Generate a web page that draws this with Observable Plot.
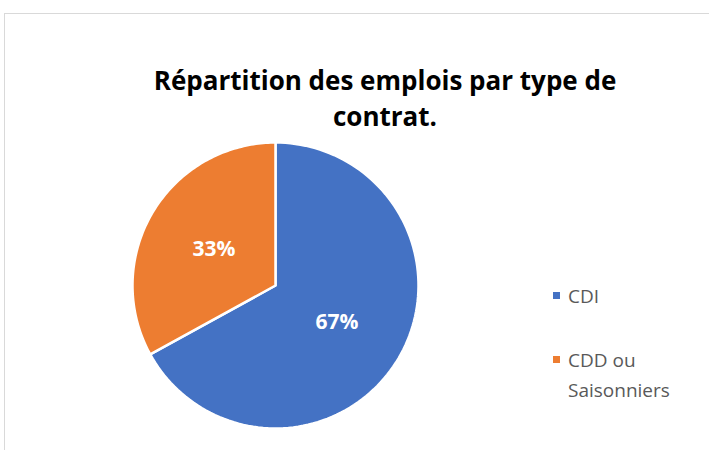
<!DOCTYPE html>
<html><head><meta charset="utf-8">
<script src="https://cdn.jsdelivr.net/npm/d3@7"></script>
<script src="https://cdn.jsdelivr.net/npm/@observablehq/plot@0.6"></script>
<style>
html,body{margin:0;padding:0;background:#fff;}
#wrap{position:relative;width:709px;height:450px;overflow:hidden;font-family:"Open Sans",sans-serif;}
#frame{position:absolute;left:4px;top:13px;width:760px;height:500px;border:1.5px solid #d9d9d9;box-sizing:border-box;}
#title{position:absolute;left:100px;width:570px;top:62px;text-align:center;font-weight:700;font-size:26px;line-height:36px;color:#000;}
#legend{position:absolute;left:553px;top:281px;color:#595959;font-size:19px;}
.item{position:relative;padding-left:15px;line-height:30px;}
.sw{position:absolute;left:0;top:11px;width:7px;height:7px;}
#chart{position:absolute;left:0;top:0;}
</style></head>
<body><div id="wrap"><div id="frame"></div><div id="chart"></div>
<div id="title">Répartition des emplois par type de<br>contrat.</div>
<div id="legend"></div></div>
<script>
const categories = ["CDI", "CDD ou Saisonniers"];
const values = [67, 33];
const labels = ["67%", "33%"];
const colors = ["#4472C4", "#ED7D31"];

const data = categories.map((c, i) => ({cat: c, value: values[i], label: labels[i]}));
const arcs = d3.pie().sort(null).value(d => d.value)(data);
const rows = [];
arcs.forEach(a => {
  rows.push({cat: a.data.cat, x: 0, y: 0});
  const n = 120;
  for (let k = 0; k <= n; k++) {
    const t = a.startAngle + (a.endAngle - a.startAngle) * k / n;
    rows.push({cat: a.data.cat, x: Math.sin(t), y: Math.cos(t)});
  }
  rows.push({cat: a.data.cat, x: 0, y: 0});
});
const labelRows = arcs.map(a => {
  const m = (a.startAngle + a.endAngle) / 2;
  return {label: a.data.label, x: 0.5 * Math.sin(m), y: 0.5 * Math.cos(m)};
});

const cx = 275, cy = 285, r = 143;
const plot = Plot.plot({
  width: 709, height: 450, margin: 0,
  x: {domain: [-1, 1], range: [cx - r, cx + r], axis: null},
  y: {domain: [-1, 1], range: [cy + r, cy - r], axis: null},
  color: {domain: categories, range: colors},
  style: {background: "transparent"},
  marks: [
    Plot.line(rows, {x: "x", y: "y", z: "cat", fill: "cat", stroke: "white", strokeWidth: 2.5, curve: "linear"}),
    Plot.text(labelRows, {x: "x", y: "y", text: "label", fill: "white", fontSize: 21, fontWeight: "bold", fontFamily: "Open Sans"})
  ]
});
document.getElementById("chart").appendChild(plot);

const leg = document.getElementById("legend");
const legendLabels = [["CDI"], ["CDD ou", "Saisonniers"]];
legendLabels.forEach((lines, i) => {
  const d = document.createElement("div");
  d.className = "item";
  d.style.marginBottom = i === 0 ? "34px" : "0";
  d.innerHTML = `<span class="sw" style="background:${colors[i]}"></span>` + lines.join("<br>");
  leg.appendChild(d);
});
</script></body></html>
